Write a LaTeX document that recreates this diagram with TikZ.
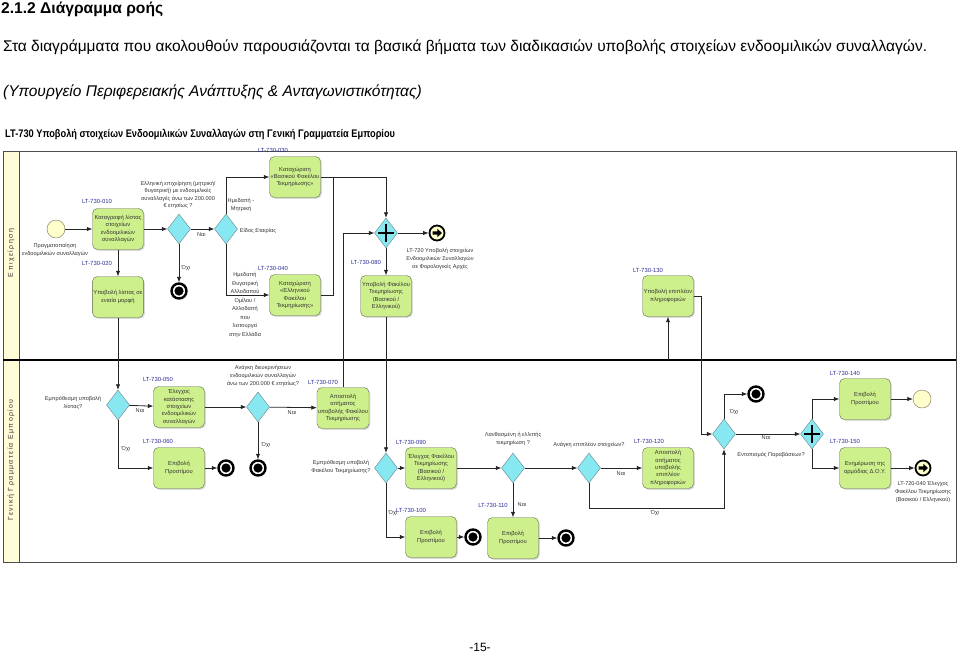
\documentclass[tikz,border=0pt]{standalone}
\usepackage{fontspec}
\setmainfont{Liberation Sans}
\newfontfamily\lanefont[LetterSpace=20]{Liberation Sans}
\usetikzlibrary{positioning,shapes,shadows,arrows,arrows.meta}
\usetikzlibrary{shapes.geometric}

\definecolor{taskfill}{RGB}{206,240,140}
\definecolor{taskline}{RGB}{95,105,80}
\definecolor{gatefill}{RGB}{135,232,242}
\definecolor{gateline}{RGB}{110,130,135}
\definecolor{startfill}{RGB}{255,255,204}
\definecolor{startline}{RGB}{120,110,80}
\definecolor{lanefill}{RGB}{255,252,215}
\definecolor{codeblue}{RGB}{45,45,150}

\begin{document}
\begin{tikzpicture}[x=1pt,y=-1pt,
	task/.style={draw=taskline,fill=taskfill,rounded corners=5pt,minimum width=51pt,minimum height=41pt,inner sep=1pt,align=center,text=black!80,font=\fontsize{5.8}{7.4}\selectfont,drop shadow={shadow xshift=1.3pt,shadow yshift=-1.3pt,opacity=0.3}},
	gate/.style={diamond,draw=gateline,fill=gatefill,minimum width=23pt,minimum height=30pt,inner sep=0pt},
	pgate/.style={gate,path picture={\draw[black,line width=2pt,shift={(path picture bounding box.center)}] (-8pt,0pt) -- (8pt,0pt) (0pt,-9pt) -- (0pt,9pt);}},
	endev/.style={circle,draw=black,line width=2.4pt,fill=white,minimum size=15pt,inner sep=0pt,path picture={\fill[black] (path picture bounding box.center) circle (4.6pt);}},
	msgev/.style={circle,draw=black,line width=1.8pt,fill=startfill,minimum size=15pt,inner sep=0pt,path picture={\fill[black,shift={(path picture bounding box.center)}] (-4.5pt,-1.7pt) -- (0.3pt,-1.7pt) -- (0.3pt,-4.2pt) -- (5pt,0pt) -- (0.3pt,4.2pt) -- (0.3pt,1.7pt) -- (-4.5pt,1.7pt) -- cycle;}},
	startev/.style={circle,draw=startline,fill=startfill,minimum size=18pt,inner sep=0pt},
	code/.style={text=codeblue,font=\fontsize{5.9}{7}\selectfont,inner sep=0pt},
	note/.style={align=center,text=black!80,font=\fontsize{5.6}{7.6}\selectfont,inner sep=0pt},
	flow/.style={draw=black!85,line width=0.8pt,-{Latex[length=5.5pt,width=4.5pt]}},
	line/.style={draw=black!85,line width=0.8pt},
]
	\useasboundingbox (0,0) rectangle (960,654);
	%
	\node[anchor=base west,inner sep=0pt,font=\fontsize{15.6}{18}\selectfont\bfseries] (head) at (1,13) {2.1.2 Διάγραμμα ροής};
	\node[anchor=base west,inner sep=0pt,font=\fontsize{15.5}{18}\selectfont] (intro) at (3,51) {Στα διαγράμματα που ακολουθούν παρουσιάζονται τα βασικά βήματα των διαδικασιών υποβολής στοιχείων ενδοομιλικών συναλλαγών.};
	\node[anchor=base west,inner sep=0pt,font=\fontsize{15.5}{18}\selectfont\itshape] (source) at (3,96) {(Υπουργείο Περιφερειακής Ανάπτυξης \& Ανταγωνιστικότητας)};
	\node[anchor=base west,inner sep=0pt] (title) at (5,137) {\scalebox{0.84}[1]{\fontsize{11}{13}\selectfont\bfseries LT-730 Υποβολή στοιχείων Ενδοομιλικών Συναλλαγών στη Γενική Γραμματεία Εμπορίου}};
	\node[font=\fontsize{12}{14}\selectfont] (page) at (480,647) {-15-};
	%
	\draw[draw=gray!60!black,line width=0.8pt] (3,151) rectangle (956,562);
	\filldraw[fill=lanefill,draw=gray!60!black,line width=0.8pt] (3,151) rectangle (19,562);
	\draw[line width=1.6pt] (3,360) -- (956,360);
	\node[rotate=90,font=\fontsize{7}{8}\lanefont,text=black!80] (lane1) at (11,253) {Επιχείρηση};
	\node[rotate=90,font=\fontsize{7}{8}\lanefont,text=black!80] (lane2) at (11,460) {Γενική Γραμματεία Εμπορίου};
	%
	\node[startev] (start) at (56,229) {};
	\node[note] (startlbl) at (55,250) {Πραγματοποίηση\\ενδοομιλικών συναλλαγών};
	\node[task] (t010) at (118,229) {Καταγραφή λίστας\\στοιχείων\\ενδοομιλικών\\συναλλαγών};
	\node[code] (c010) at (97,201) {LT-730-010};
	\node[task] (t020) at (118,297) {Υποβολή λίστας σε\\ενιαία μορφή};
	\node[code] (c020) at (97,263) {LT-730-020};
	\node[gate] (g1) at (179,229) {};
	\node[note] (g1lbl) at (178,195) {Ελληνική επιχείρηση (μητρική/\\θυγατρική) με ενδοομιλικές\\συναλλαγές άνω των 200.000\\€ ετησίως ?};
	\node[endev] (e1) at (179,291) {};
	\node[gate] (g2) at (226,229) {};
	\node[note] (g2up) at (241,205) {Ημεδαπή -\\Μητρική};
	\node[note] (g2mid) at (258,231) {Είδος Εταιρίας};
	\node[note,font=\fontsize{5.6}{8.5}\selectfont] (g2dn) at (245,305) {Ημεδαπή\\Θυγατρική\\Αλλοδαπού\\Ομίλου /\\Αλλοδαπή\\που\\λειτουργεί\\στην Ελλάδα};
	\node[task] (t030) at (295,177) {Καταχώριση\\«Βασικού Φακέλου\\Τεκμηρίωσης»};
	\node[code] (c030) at (273,150) {LT-730-030};
	\node[task] (t040) at (295,295) {Καταχώριση\\«Ελληνικού\\Φακέλου\\Τεκμηρίωσης»};
	\node[code] (c040) at (273,268) {LT-730-040};
	\coordinate (j1) at (333,177);
	\node[pgate] (pg1) at (386,233) {};
	\node[msgev] (e2) at (437,233) {};
	\node[note] (e2lbl) at (440,259) {LT-720 Υποβολή στοιχείων\\Ενδοομιλικών Συναλλαγών\\σε Φορολογικές Αρχές};
	\node[task] (t080) at (386,296) {Υποβολή Φακέλου\\Τεκμηρίωσης\\(Βασικού /\\Ελληνικού)};
	\node[code] (c080) at (366,262) {LT-730-080};
	\node[task] (t130) at (668,296) {Υποβολή επιπλέον\\πληροφοριών};
	\node[code] (c130) at (648,270) {LT-730-130};
	\coordinate (k0) at (668,360);
	\coordinate (k1) at (701,434);
	%
	\node[gate] (g3) at (118,405) {};
	\node[note] (g3lbl) at (73,403) {Εμπρόθεσμη υποβολή\\λίστας?};
	\node[task] (t050) at (179,407) {Έλεγχος\\κατάστασης\\στοιχείων\\ενδοομιλικών\\συναλλαγών};
	\node[code] (c050) at (158,379) {LT-730-050};
	\node[task] (t060) at (179,468) {Επιβολή\\Προστίμου};
	\node[code] (c060) at (158,441) {LT-730-060};
	\node[endev] (e3) at (226,468) {};
	\node[gate] (g4) at (258,407) {};
	\node[note] (g4lbl) at (263,376) {Ανάγκη διευκρινήσεων\\ενδοομιλικών συναλλαγών\\άνω των 200.000 € ετησίως?};
	\node[endev] (e4) at (258,468) {};
	\node[task] (t070) at (343,408) {Αποστολή\\αιτήματος\\υποβολής Φακέλου\\Τεκμηρίωσης};
	\node[code] (c070) at (323,382) {LT-730-070};
	\node[gate] (ge2) at (386,468) {};
	\node[note] (ge2lbl) at (341,467) {Εμπρόθεσμη υποβολή\\Φακέλου Τεκμηρίωσης?};
	\node[task] (t090) at (431,468) {Έλεγχος Φακέλου\\Τεκμηρίωσης\\(Βασικού /\\Ελληνικού)};
	\node[code] (c090) at (411,442) {LT-730-090};
	\node[task] (t100) at (431,537) {Επιβολή\\Προστίμου};
	\node[code] (c100) at (411,510) {LT-730-100};
	\node[endev] (e5) at (473,537) {};
	\node[gate] (g6) at (513,468) {};
	\node[note] (g6lbl) at (513,439) {Λανθασμένη ή ελλιπής\\τεκμηρίωση ?};
	\node[task] (t110) at (513,538) {Επιβολή\\Προστίμου};
	\node[code] (c110) at (493,505) {LT-730-110};
	\node[endev] (e6) at (566,538) {};
	\node[gate] (g7) at (589,468) {};
	\node[note] (g7lbl) at (589,445) {Ανάγκη επιπλέον στοιχείων?};
	\node[task] (t120) at (668,468) {Αποστολή\\αιτήματος\\υποβολής\\επιπλέον\\πληροφοριών};
	\node[code] (c120) at (649,441) {LT-730-120};
	\coordinate (k2) at (724,508);
	\node[gate] (g5) at (724,434) {};
	\node[note] (g5lbl) at (771,455) {Εντοπισμός Παραβάσεων?};
	\node[endev] (e7) at (756,394) {};
	\node[pgate] (pg2) at (812,434) {};
	\node[task] (t140) at (865,399) {Επιβολή\\Προστίμου};
	\node[code] (c140) at (845,373) {LT-730-140};
	\node[startev] (e8) at (922,399) {};
	\node[task] (t150) at (865,468) {Ενημέρωση της\\αρμόδιας Δ.Ο.Υ.};
	\node[code] (c150) at (845,441) {LT-730-150};
	\node[msgev] (e9) at (923,468) {};
	\node[note] (e9lbl) at (923,492) {LT-720-040 Έλεγχος\\Φακέλου Τεκμηρίωσης\\(Βασικού / Ελληνικού)};
	%
	\draw[flow] (start) -- (t010);
	\draw[flow] (t010) -- (t020);
	\draw[flow] (t010) -- (g1);
	\draw[flow] (g1) -- node[note,pos=0.45,below=3pt]{Ναι} (g2);
	\draw[flow] (g1) -- (e1);
	\draw[flow] (g2.north) |- (t030);
	\draw[flow] (g2.south) |- (t040);
	\draw[flow] (t030) -| (pg1);
	\draw[line] (t040) -| (j1);
	\draw[flow] (pg1) -- (e2);
	\draw[flow] (pg1) -- (t080);
	\draw[flow] (k0) -- (t130);
	\draw[flow] (t130) -| (k1) -- (g5);
	%
	\draw[flow] (t020) -- (g3);
	\draw[flow] (g3) -- (t050);
	\draw[flow] (g3) |- (t060);
	\draw[flow] (t060) -- (e3);
	\draw[flow] (t050) -- (g4);
	\draw[flow] (g4) -- (t070);
	\draw[flow] (g4) -- (e4);
	\draw[flow] (t070) |- (pg1);
	\draw[flow] (t080) -- (ge2);
	\draw[flow] (ge2) -- (t090);
	\draw[flow] (ge2) |- (t100);
	\draw[flow] (t100) -- (e5);
	\draw[flow] (t090) -- (g6);
	\draw[flow] (g6) -- (t110);
	\draw[flow] (t110) -- (e6);
	\draw[flow] (g6) -- (g7);
	\draw[flow] (g7) -- (t120);
	\draw[flow] (g7) |- (k2) -- (g5);
	\draw[flow] (g5) |- (e7);
	\draw[flow] (g5) -- (pg2);
	\draw[flow] (pg2) |- (t140);
	\draw[flow] (pg2) |- (t150);
	\draw[flow] (t140) -- (e8);
	\draw[flow] (t150) -- (e9);
	%
	\node[note] (no1) at (186,268) {Όχι};
	\node[note] (yes3) at (140,411) {Ναι};
	\node[note] (no3) at (126,449) {Όχι};
	\node[note] (yes4) at (292,413) {Ναι};
	\node[note] (no4) at (266,445) {Όχι};
	\node[note] (no5) at (393,513) {Όχι};
	\node[note] (yes6) at (522,505) {Ναι};
	\node[note] (yes7) at (621,474) {Ναι};
	\node[note] (no7) at (655,513) {Όχι};
	\node[note] (no8) at (734,412) {Όχι};
	\node[note] (yes8) at (766,438) {Ναι};
\end{tikzpicture}
\end{document}
